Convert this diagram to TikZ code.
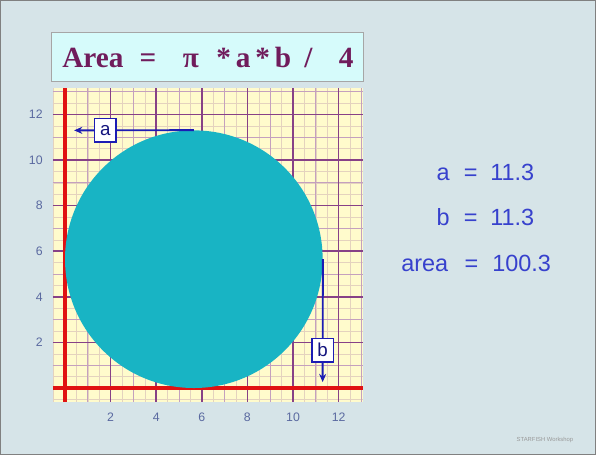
\documentclass[tikz,border=0pt]{standalone}
\usepackage{fontspec}
\setmainfont{Liberation Serif}
\setsansfont{Liberation Sans}
\usetikzlibrary{arrows.meta}
\definecolor{slidebg}{RGB}{214,228,232}
\definecolor{paper}{RGB}{255,251,204}
\definecolor{finegrid}{RGB}{228,210,190}
\definecolor{unitgrid}{RGB}{196,160,190}
\definecolor{majorgrid}{RGB}{135,65,135}
\definecolor{axisred}{RGB}{224,18,18}
\definecolor{discteal}{RGB}{24,180,196}
\definecolor{dimblue}{RGB}{28,28,180}
\definecolor{valblue}{RGB}{55,65,205}
\definecolor{tickgray}{RGB}{90,105,160}
\definecolor{formulapurple}{RGB}{112,28,92}
\definecolor{formulafill}{RGB}{214,251,251}
\begin{document}
\begin{tikzpicture}[x=0.684cm,y=0.684cm]
        \tikzstyle{titlebox}=[draw=gray!70,line width=0.8pt,fill=formulafill,minimum width=9.36cm,minimum height=1.47cm,font=\fontsize{25}{30}\selectfont\bfseries,text=formulapurple]
        \tikzstyle{disc}=[circle,fill=discteal,inner sep=0pt,minimum size=7.729cm]
        \tikzstyle{dimline}=[draw=dimblue,line width=1.6pt,-{Stealth[length=7pt,width=6pt]}]
        \tikzstyle{letterbox}=[draw=dimblue,line width=1.2pt,fill=white,inner sep=1pt,minimum width=0.64cm,minimum height=0.7cm,font=\sffamily\fontsize{16}{18}\selectfont,text=dimblue!70!black]
        \tikzstyle{axis}=[axisred,line width=2.6pt]
        \tikzstyle{ticklabel}=[font=\sffamily\fontsize{10.5}{12}\selectfont,text=tickgray]
        \tikzstyle{value}=[font=\sffamily\fontsize{20}{24}\selectfont,text=valblue]
        \path[use as bounding box] (-2.851,-2.939) rectangle (23.289,17.018);
        \fill[slidebg] (-2.851,-2.939) rectangle (23.289,17.018);
        \draw[gray,line width=0.5pt] (-2.83,-2.92) rectangle (23.27,17.0);

        % squared paper
        \fill[paper] (-0.53,-0.6) rectangle (13.07,13.15);
        \foreach \k in {-0.5,0,...,13} {
          \draw[finegrid,line width=0.4pt] (\k,-0.6) -- (\k,13.15);
          \draw[finegrid,line width=0.4pt] (-0.53,\k) -- (13.07,\k);
        }
        \foreach \k in {1,3,...,13} {
          \draw[unitgrid,line width=0.6pt] (\k,-0.6) -- (\k,13.15);
          \draw[unitgrid,line width=0.6pt] (-0.53,\k) -- (13.07,\k);
        }
        \foreach \k in {2,4,...,12} {
          \draw[majorgrid,line width=1.5pt] (\k,-0.6) -- (\k,13.15);
          \draw[majorgrid,line width=1.5pt] (-0.53,\k) -- (13.07,\k);
          \node[ticklabel,anchor=east] (ylab\k) at (-0.8,\k) {\k};
          \node[ticklabel] (xlab\k) at (\k,-1.3) {\k};
        }
        \draw[axis] (-0.53,0) -- (13.07,0);
        \draw[axis] (0,-0.6) -- (0,13.15);

        \node [disc] (ellipse) at (5.65,5.65) {};
        \coordinate (aend) at (0.4,11.3);
        \coordinate (bend) at (11.3,0.26);
        \draw[dimline] (ellipse.north) -- node[letterbox,pos=0.74] (alabel) {a} (aend);
        \draw[dimline] (ellipse.east) -- node[letterbox,pos=0.74] (blabel) {b} (bend);

        \node [titlebox] (formula) at (6.27,14.5) {Area\hspace{0.55em}=\hspace{0.9em}π\hspace{0.6em}*\,a\,*\,b\hspace{0.45em}/\hspace{0.9em}4};

        \node [value] (aval) at (18.44,9.47) {a\hspace{0.6em}=\hspace{0.55em}11.3};
        \node [value] (bval) at (18.44,7.5) {b\hspace{0.6em}=\hspace{0.55em}11.3};
        \node [value] (areaval) at (18.03,5.48) {area\hspace{0.7em}=\hspace{0.6em}100.3};

        \node [font=\sffamily\fontsize{5}{6}\selectfont,text=gray!80] (credit) at (21.05,-2.28) {STARFISH Workshop};
\end{tikzpicture}
\end{document}
